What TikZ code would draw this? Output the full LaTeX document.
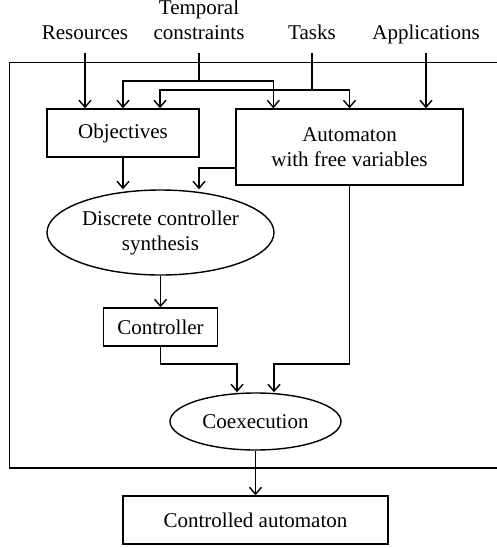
\documentclass[tikz,border=0pt]{standalone}
\usepackage{fontspec}
\setmainfont{Liberation Serif}
\usepackage{tikz}
\usetikzlibrary{shapes,arrows,arrows.meta}
\tikzstyle{box} = [draw, rectangle, text centered, inner sep=0pt, align=center]
\tikzstyle{oval} = [draw, ellipse, text centered, inner sep=0pt, align=center]
\tikzstyle{source} = [anchor=south, align=center, inner sep=0pt, text depth=2.5pt, inner ysep=4pt]

\begin{document}
\begin{tikzpicture}[x=0.5pt,y=-0.5pt,line width=0.7pt,>={Straight Barb[width=6pt,length=3.5pt]},font=\fontsize{10.5}{12.5}\selectfont]
	\useasboundingbox (0,0) rectangle (497,548);
	\draw (505,62.5) -- (9.5,62.5) -- (9.5,468) -- (505,468); % frame
	% inputs
	\node[source] (res) at (85,53) {Resources};
	\node[source] (temp) at (199,53) {Temporal\\constraints};
	\node[source] (tasks) at (312,53) {Tasks};
	\node[source] (apps) at (426,53) {Applications};
	\coordinate (tempSplit) at (199,81);
	\coordinate (tasksSplit) at (312,90);
	% blocks
	\node[box,minimum width=76pt,minimum height=24pt] (obj) at (123,133) {Objectives};
	\node[box,minimum width=113.5pt,minimum height=38pt] (aut) at (349.5,147) {Automaton\\with free variables};
	\node[oval,minimum width=113.5pt,minimum height=42.5pt] (dcs) at (160.5,232.5) {Discrete controller\\synthesis};
	\node[box,minimum width=57pt,minimum height=19pt] (ctrl) at (160.5,327) {Controller};
	\node[oval,minimum width=85.5pt,minimum height=28.5pt] (coex) at (255.5,421.5) {Coexecution};
	\node[box,minimum width=132.5pt,minimum height=24pt] (result) at (255.5,520) {Controlled automaton};
	\coordinate (merge) at (255.5,364);
	% arrows
	\path[->,draw] (res.south) -- (res.south |- obj.north);
	\path[draw] (temp.south) -- (tempSplit);
	\path[->,draw] (tempSplit) -| (obj.north);
	\path[->,draw] (tempSplit) -| ([xshift=19pt]aut.north west);
	\path[draw] (tasks.south) -- (tasksSplit);
	\path[->,draw] (tasksSplit) -| ([xshift=18.5pt]obj.north);
	\path[->,draw] (tasksSplit) -| (aut.north);
	\path[->,draw] (apps.south) -- (apps.south |- aut.north);
	\path[->,draw] (obj.south) -- (obj.south |- dcs.north);
	\path[->,draw] ([yshift=-10.5pt]aut.west) -| ([xshift=19.25pt]dcs.north);
	\path[->,draw] (dcs.south) -- (ctrl.north);
	\path[->,draw] (ctrl.south) |- ([xshift=-9.25pt]merge) -- ([xshift=-9.25pt]coex.north);
	\path[->,draw] (aut.south) |- ([xshift=9.25pt]merge) -- ([xshift=9.25pt]coex.north);
	\path[->,draw] (coex.south) -- (result.north);
\end{tikzpicture}
\end{document}
